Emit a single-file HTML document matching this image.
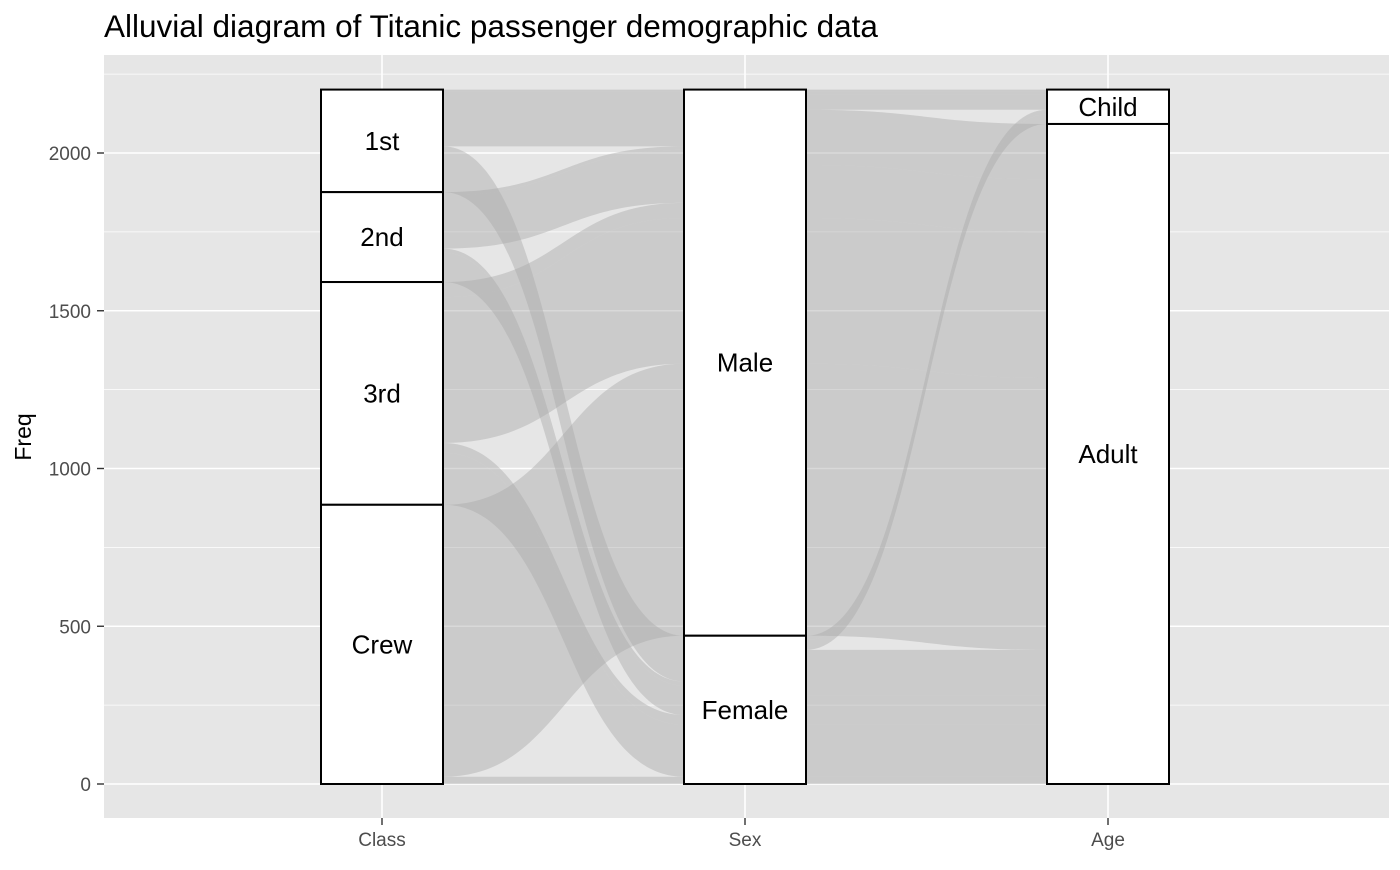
<!DOCTYPE html>
<html><head><meta charset="utf-8"><style>
body{margin:0;background:#fff;font-family:"Liberation Sans",Arial,sans-serif}
svg text{font-family:"Liberation Sans",Arial,sans-serif}
</style></head><body>
<svg id="chart" width="1400" height="865">
<text x="104" y="37" font-size="31.5" fill="#000">Alluvial diagram of Titanic passenger demographic data</text>
<rect x="104" y="55" width="1285" height="763" fill="#e6e6e6"/>
<g id="grid"></g><g id="flows"></g><g id="strata"></g><g id="axes"></g>
<text transform="translate(31,437) rotate(-90)" text-anchor="middle" font-size="23" fill="#000">Freq</text>
</svg>
<script>
const axesNames = ["Class","Sex","Age"];
const classLevels = ["1st","2nd","3rd","Crew"];
const sexLevels = ["Male","Female"];
const ageLevels = ["Child","Adult"];
const comboClass = ["1st","2nd","3rd","Crew","1st","2nd","3rd","Crew","1st","2nd","3rd","Crew","1st","2nd","3rd","Crew"];
const comboSex =   ["Male","Male","Male","Male","Female","Female","Female","Female","Male","Male","Male","Male","Female","Female","Female","Female"];
const comboAge =   ["Child","Child","Child","Child","Child","Child","Child","Child","Adult","Adult","Adult","Adult","Adult","Adult","Adult","Adult"];
const comboFreq =  [5,11,48,0,1,13,31,0,175,168,462,862,144,93,165,23];
const yTicks = [0,500,1000,1500,2000];

const NS="http://www.w3.org/2000/svg";
const X0=104,X1=1389,Yt=55,Yb=818;
const y=v=>784-v*0.3155;
const axX=[382,745,1108];
const BW=122;
function mk(t,a,p){const e=document.createElementNS(NS,t);for(const k in a)e.setAttribute(k,a[k]);p.appendChild(e);return e;}
const grid=document.getElementById('grid'),flows=document.getElementById('flows'),strata=document.getElementById('strata'),axes=document.getElementById('axes');
for(let v=-250;v<=2500;v+=250){const py=y(v);if(py<Yt||py>Yb)continue;
 const l=mk('line',{x1:X0,x2:X1,y1:py,y2:py,stroke:'#fff','stroke-width':v%500===0?1.6:0.8},grid);
 
 }
axX.forEach(px=>{const l=mk('line',{x1:px,x2:px,y1:Yt,y2:Yb,stroke:'#fff','stroke-width':1.6},grid);
 
 });
yTicks.forEach(v=>{const t=mk('text',{x:91,y:y(v)+7,'text-anchor':'end','font-size':19,fill:'#4d4d4d'},axes);t.textContent=v;
 
 
 mk('line',{x1:97,x2:104,y1:y(v),y2:y(v),stroke:'#333','stroke-width':1.4},axes);});
axesNames.forEach((n,i)=>{const t=mk('text',{x:axX[i],y:846,'text-anchor':'middle','font-size':19,fill:'#4d4d4d'},axes);t.textContent=n;
 
 
 mk('line',{x1:axX[i],x2:axX[i],y1:818,y2:825,stroke:'#333','stroke-width':1.4},axes);});
const levels=[classLevels,sexLevels,ageLevels];
const items=[];
for(let i=0;i<comboFreq.length;i++){if(comboFreq[i]<=0)continue;
 items.push({k:[classLevels.indexOf(comboClass[i]),sexLevels.indexOf(comboSex[i]),ageLevels.indexOf(comboAge[i])],f:comboFreq[i],pos:{}});}
const total=items.reduce((s,a)=>s+a.f,0);
const slots={c:[0,[0,1,2]],sL:[1,[1,0,2]],sR:[1,[1,2,0]],a:[2,[2,1,0]]};
for(const s in slots){
 const ord=slots[s][1];
 const sorted=items.slice().sort((p,q)=>{for(const k of ord){if(p.k[k]!==q.k[k])return p.k[k]-q.k[k];}return 0;});
 let top=total;
 sorted.forEach(it=>{it.pos[s]=[top,top-it.f];top-=it.f;});
}
function curve(xa,ya,xb,yb){const m=(xa+xb)/2;return `C${m},${ya} ${m},${yb} ${xb},${yb}`;}
items.forEach(it=>{
 const P=it.pos;
 let d=`M${axX[0]},${y(P.c[0])} L${axX[0]+BW/2},${y(P.c[0])}`;
 d+=curve(axX[0]+BW/2,y(P.c[0]),axX[1]-BW/2,y(P.sL[0]));
 d+=` L${axX[1]-BW/2},${y(P.sL[1])}`;
 d+=curve(axX[1]-BW/2,y(P.sL[1]),axX[0]+BW/2,y(P.c[1]));
 d+=` L${axX[0]},${y(P.c[1])} Z`;
 let d2=`M${axX[1]+BW/2},${y(P.sR[0])}`;
 d2+=curve(axX[1]+BW/2,y(P.sR[0]),axX[2]-BW/2,y(P.a[0]));
 d2+=` L${axX[2]-BW/2},${y(P.a[1])}`;
 d2+=curve(axX[2]-BW/2,y(P.a[1]),axX[1]+BW/2,y(P.sR[1]));
 d2+=' Z';
 const p=mk('path',{d:d+' '+d2,fill:'#aaaaaa','fill-opacity':0.45},flows);
 
 
});
for(let a=0;a<3;a++){
 let top=total;
 levels[a].forEach((lv,li)=>{
  const f=items.filter(it=>it.k[a]===li).reduce((s,it)=>s+it.f,0);
  if(f<=0)return;
  const r=mk('rect',{x:axX[a]-BW/2,y:y(top),width:BW,height:y(top-f)-y(top),fill:'#fff',stroke:'#000','stroke-width':2},strata);
  
  
  const t=mk('text',{x:axX[a],y:(y(top)+y(top-f))/2+9,'text-anchor':'middle','font-size':26,fill:'#000'},strata);
  t.textContent=lv;
  
  
  top-=f;
 });
}
</script>
</body></html>
